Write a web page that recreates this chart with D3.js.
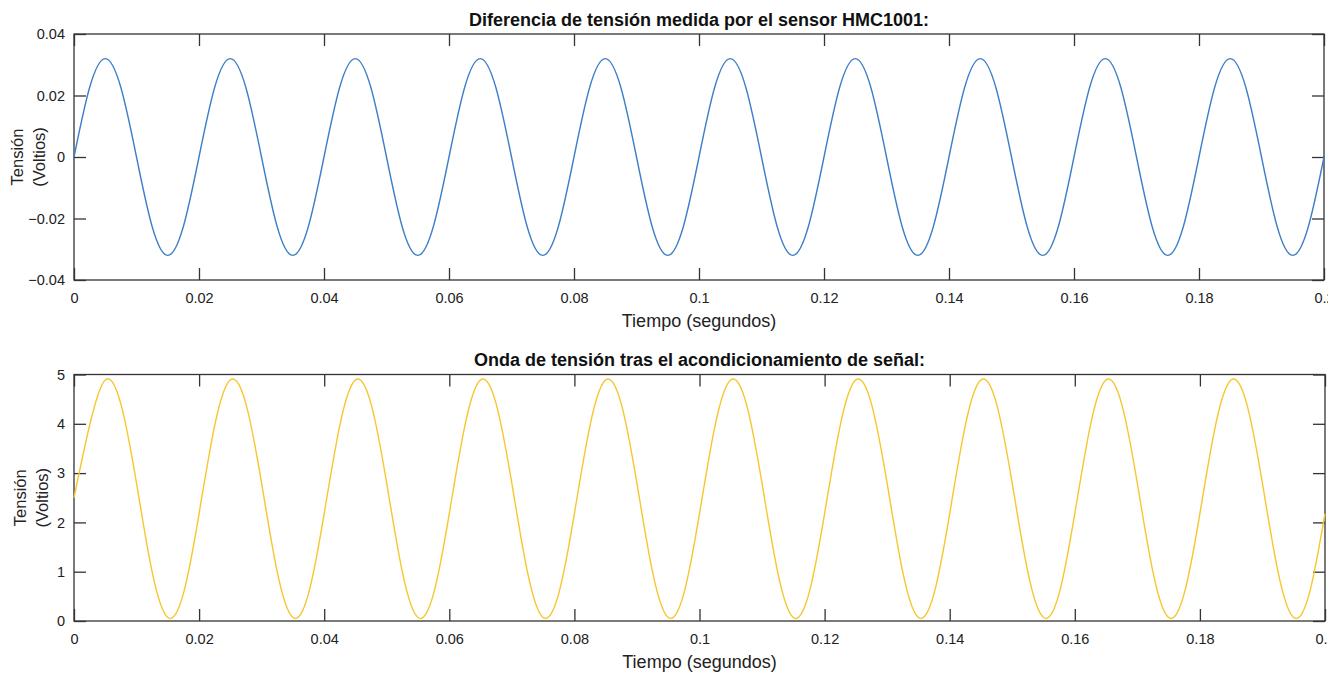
<!DOCTYPE html>
<html><head><meta charset="utf-8">
<script src="https://cdn.jsdelivr.net/npm/d3@7"></script>
<style>body{margin:0;background:#fff;} svg{display:block;background:#fff;}</style>
</head><body>
<script>
// sample times (s)
const time = [0,0.0025,0.005,0.0075,0.01,0.0125,0.015,0.0175,0.02,0.0225,0.025,0.0275,0.03,0.0325,0.035,0.0375,0.04,0.0425,0.045,0.0475,0.05,0.0525,0.055,0.0575,0.06,0.0625,0.065,0.0675,0.07,0.0725,0.075,0.0775,0.08,0.0825,0.085,0.0875,0.09,0.0925,0.095,0.0975,0.1,0.1025,0.105,0.1075,0.11,0.1125,0.115,0.1175,0.12,0.1225,0.125,0.1275,0.13,0.1325,0.135,0.1375,0.14,0.1425,0.145,0.1475,0.15,0.1525,0.155,0.1575,0.16,0.1625,0.165,0.1675,0.17,0.1725,0.175,0.1775,0.18,0.1825,0.185,0.1875,0.19,0.1925,0.195,0.1975,0.2];
// sensor voltage difference (V)
const sensorV = [0,0.0226,0.032,0.0226,0,-0.0226,-0.032,-0.0226,
0,0.0226,0.032,0.0226,0,-0.0226,-0.032,-0.0226,
0,0.0226,0.032,0.0226,0,-0.0226,-0.032,-0.0226,
0,0.0226,0.032,0.0226,0,-0.0226,-0.032,-0.0226,
0,0.0226,0.032,0.0226,0,-0.0226,-0.032,-0.0226,
0,0.0226,0.032,0.0226,0,-0.0226,-0.032,-0.0226,
0,0.0226,0.032,0.0226,0,-0.0226,-0.032,-0.0226,
0,0.0226,0.032,0.0226,0,-0.0226,-0.032,-0.0226,
0,0.0226,0.032,0.0226,0,-0.0226,-0.032,-0.0226,
0,0.0226,0.032,0.0226,0,-0.0226,-0.032,-0.0226,
0];
// conditioned voltage (V)
const condV = [2.5,3.97,4.89,4.40,2.79,0.99,0.07,0.56,
2.18,3.97,4.89,4.40,2.79,0.99,0.07,0.56,
2.18,3.97,4.89,4.40,2.79,0.99,0.07,0.56,
2.18,3.97,4.89,4.40,2.79,0.99,0.07,0.56,
2.18,3.97,4.89,4.40,2.79,0.99,0.07,0.56,
2.18,3.97,4.89,4.40,2.79,0.99,0.07,0.56,
2.18,3.97,4.89,4.40,2.79,0.99,0.07,0.56,
2.18,3.97,4.89,4.40,2.79,0.99,0.07,0.56,
2.18,3.97,4.89,4.40,2.79,0.99,0.07,0.56,
2.18,3.97,4.89,4.40,2.79,0.99,0.07,0.56,
2.18];
const xTicks = [0,0.02,0.04,0.06,0.08,0.1,0.12,0.14,0.16,0.18,0.2];
const yTicksTop = [-0.04,-0.02,0,0.02,0.04];
const yTicksBottom = [0,1,2,3,4,5];
const titles = ["Diferencia de tensión medida por el sensor HMC1001:","Onda de tensión tras el acondicionamiento de señal:"];
const xLabel = "Tiempo (segundos)";
const yLabel = ["Tensión","(Voltios)"];

const W = 1328, H = 675;
const svg = d3.select("body").append("svg").attr("width", W).attr("height", H);
const font = "'Liberation Sans', Arial, sans-serif";
const axisColor = "#333";
const tickFont = 14.5;

function panel(cfg){
  const {top, bottom, left, right, yDomain, yTicks, values, color, title, titleY, xLabY, yLabX} = cfg;
  const x = d3.scaleLinear().domain([0,0.2]).range([left,right]);
  const y = d3.scaleLinear().domain(yDomain).range([bottom,top]);
  const g = svg.append("g");
  const tl = 12;
  g.append("rect").attr("x",left).attr("y",top).attr("width",right-left).attr("height",bottom-top)
    .attr("fill","none").attr("stroke",axisColor).attr("stroke-width",1.3);
  const fmt = d => d3.format("")(+d.toFixed(4));
  g.append("g").attr("transform",`translate(0,${bottom})`)
    .call(d3.axisBottom(x).tickValues(xTicks).tickSize(-tl).tickPadding(13).tickFormat(fmt))
    .call(a=>{a.select(".domain").remove(); a.selectAll("line").attr("stroke",axisColor).attr("stroke-width",1.3);
      a.selectAll("text").attr("font-family",font).attr("font-size",tickFont).attr("fill","#222");});
  g.append("g").attr("transform",`translate(0,${top})`)
    .call(d3.axisTop(x).tickValues(xTicks).tickSize(-tl).tickFormat(""))
    .call(a=>{a.select(".domain").remove(); a.selectAll("line").attr("stroke",axisColor).attr("stroke-width",1.3);});
  g.append("g").attr("transform",`translate(${left},0)`)
    .call(d3.axisLeft(y).tickValues(yTicks).tickSize(-tl).tickPadding(9).tickFormat(fmt))
    .call(a=>{a.select(".domain").remove(); a.selectAll("line").attr("stroke",axisColor).attr("stroke-width",1.3);
      a.selectAll("text").attr("font-family",font).attr("font-size",tickFont).attr("fill","#222");});
  g.append("g").attr("transform",`translate(${right},0)`)
    .call(d3.axisRight(y).tickValues(yTicks).tickSize(-tl).tickFormat(""))
    .call(a=>{a.select(".domain").remove(); a.selectAll("line").attr("stroke",axisColor).attr("stroke-width",1.3);});
  const data = time.map((t,i)=>[t, values[i]]);
  g.append("path").datum(data).attr("fill","none").attr("stroke",color).attr("stroke-width",1.4)
    .attr("d", d3.line().x(d=>x(d[0])).y(d=>y(d[1])).curve(d3.curveNatural));
  g.append("text").attr("x",(left+right)/2).attr("y",titleY).attr("text-anchor","middle")
    .attr("font-family",font).attr("font-size",18).attr("font-weight","bold").attr("fill","#111").text(title);
  g.append("text").attr("x",(left+right)/2).attr("y",xLabY).attr("text-anchor","middle")
    .attr("font-family",font).attr("font-size",18).attr("fill","#222").text(xLabel);
  const cy = (top+bottom)/2;
  yLabel.forEach((s,i)=>{
    g.append("text").attr("transform",`translate(${yLabX + i*22},${cy}) rotate(-90)`).attr("text-anchor","middle")
      .attr("font-family",font).attr("font-size",16.5).attr("fill","#222").text(s);
  });
}

panel({top:34,bottom:280,left:74,right:1324,yDomain:[-0.04,0.04],yTicks:yTicksTop,values:sensorV,
  color:"#3d7fc6",title:titles[0],titleY:26,xLabY:327,yLabX:23});
panel({top:374.5,bottom:621,left:74,right:1325,yDomain:[0,5],yTicks:yTicksBottom,values:condV,
  color:"#f7c62f",title:titles[1],titleY:366,xLabY:668,yLabX:26});
</script>
</body></html>
